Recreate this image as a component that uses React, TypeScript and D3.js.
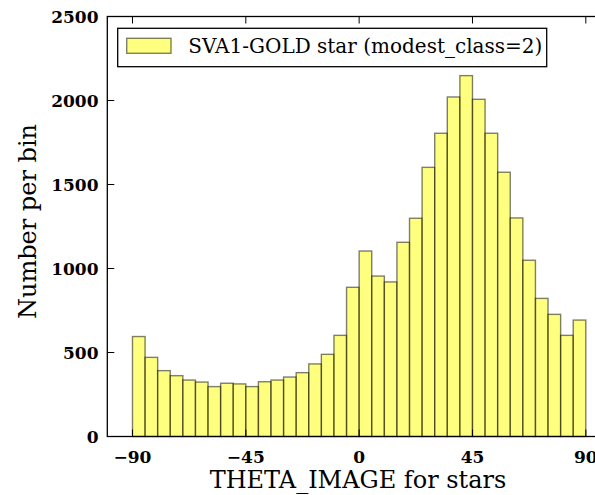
import React from "react";
import * as d3 from "d3";

const binStarts = [-90,-85,-80,-75,-70,-65,-60,-55,-50,-45,-40,-35,-30,-25,-20,-15,-10,-5,0,5,10,15,20,25,30,35,40,45,50,55,60,65,70,75,80,85];
const counts = [595,471,392,362,336,324,297,317,313,297,326,336,354,380,432,489,602,888,1104,955,920,1156,1299,1602,1805,2021,2148,2007,1805,1573,1301,1049,822,727,602,693];
const binWidth = 5;
const xTicks = [-90, -45, 0, 45, 90];
const yTicks = [0, 500, 1000, 1500, 2000, 2500];
const legendLabel = "SVA1-GOLD star (modest_class=2)";
const xLabel = "THETA_IMAGE for stars";
const yLabel = "Number per bin";

const W = 595, H = 495;
const left = 107.3, right = 611, top = 16.5, bottom = 436.5;
const font = "'DejaVu Serif', serif";

export default function App() {
  const x = d3.scaleLinear().domain([-100, 100]).range([left, right]);
  const y = d3.scaleLinear().domain([0, 2500]).range([bottom, top]);
  const tickLen = 7;
  const fmt = (v: number) => (v < 0 ? "\u2212" + Math.abs(v) : String(v));
  return (
    <svg width={W} height={H} style={{ position: "fixed", left: 0, top: 0, background: "#fff" }}>
      {binStarts.map((b, i) => (
        <rect
          key={i}
          x={x(b)}
          y={y(counts[i])}
          width={x(b + binWidth) - x(b)}
          height={y(0) - y(counts[i])}
          fill="yellow"
          fillOpacity={0.5}
          stroke="#000"
          strokeOpacity={0.5}
          strokeWidth={1.4}
        />
      ))}
      {/* spines */}
      <rect x={left} y={top} width={right - left} height={bottom - top} fill="none" stroke="#000" strokeWidth={1.3} />
      {/* x ticks */}
      {xTicks.map((t) => (
        <g key={"x" + t}>
          <line x1={x(t)} x2={x(t)} y1={bottom} y2={bottom - tickLen} stroke="#000" strokeWidth={1} />
          <line x1={x(t)} x2={x(t)} y1={top} y2={top + tickLen} stroke="#000" strokeWidth={1} />
          <text x={x(t)} y={462.5} textAnchor="middle" fontFamily={font} fontSize={17} fontWeight={700} fill="#000">{fmt(t)}</text>
        </g>
      ))}
      {yTicks.map((t) => (
        <g key={"y" + t}>
          <line x1={left} x2={left + tickLen} y1={y(t)} y2={y(t)} stroke="#000" strokeWidth={1} />
          <line x1={right} x2={right - tickLen} y1={y(t)} y2={y(t)} stroke="#000" strokeWidth={1} />
          <text x={98.5} y={y(t) + 6.5} textAnchor="end" fontFamily={font} fontSize={17} fontWeight={700} fill="#000">{fmt(t)}</text>
        </g>
      ))}
      {/* axis labels */}
      <text x={358} y={487.5} textAnchor="middle" fontFamily={font} fontSize={24} fill="#000">{xLabel}</text>
      <text transform={`translate(36, ${221.5}) rotate(-90)`} textAnchor="middle" fontFamily={font} fontSize={24} fill="#000">{yLabel}</text>
      {/* legend */}
      <rect x={117.7} y={28.3} width={429} height={38.4} fill="#fff" stroke="#000" strokeWidth={1.3} />
      <rect x={126.7} y={38.3} width={44.3} height={15} fill="yellow" fillOpacity={0.5} stroke="#000" strokeOpacity={0.5} strokeWidth={1.4} />
      <text x={188.3} y={52.5} fontFamily={font} fontSize={20} fill="#000">{legendLabel}</text>
    </svg>
  );
}
